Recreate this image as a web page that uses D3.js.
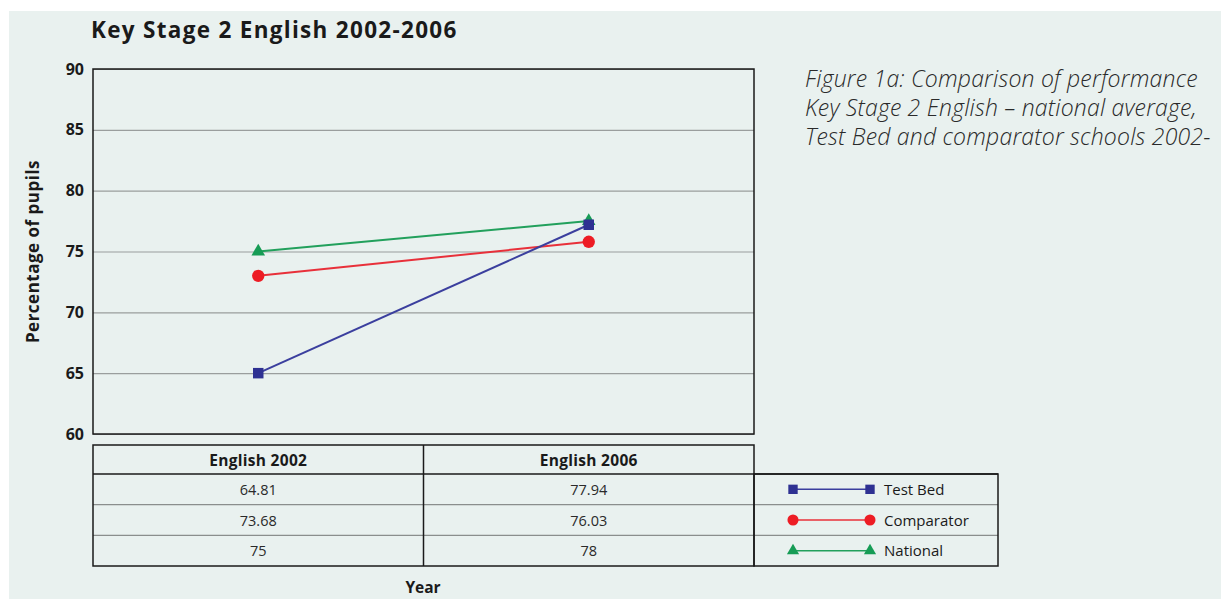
<!DOCTYPE html>
<html>
<head>
<meta charset="utf-8">
<script src="https://cdn.jsdelivr.net/npm/d3@7"></script>
<style>
  body { margin: 0; background: #ffffff; }
  svg { display: block; font-family: "Open Sans", "Noto Sans", sans-serif; }
</style>
</head>
<body>
<div id="chart"></div>
<script>
// Data
const categories = ["English 2002", "English 2006"];
const seriesNames = ["Test Bed", "Comparator", "National"];
// plotted positions
const testBed = [65.0, 77.2];
const comparator = [73.0, 75.8];
const national = [75.0, 77.5];
// table labels as printed
const testBedLabels = ["64.81", "77.94"];
const comparatorLabels = ["73.68", "76.03"];
const nationalLabels = ["75", "78"];
const yTicks = [60, 65, 70, 75, 80, 85, 90];
// caption as visible (the source crops it at the right edge)
const captionLines = [
    "Figure 1a: Comparison of performance",
    "Key Stage 2 English \u2013 national average,",
    "Test Bed and comparator schools 2002-"
];

const series = [
    { name: seriesNames[0], values: testBed, labels: testBedLabels, color: "#2e3192", line: "#3b3f9e", symbol: d3.symbolSquare, size: 110 },
    { name: seriesNames[1], values: comparator, labels: comparatorLabels, color: "#ed1c24", line: "#e8303a", symbol: d3.symbolCircle, size: 120 },
    { name: seriesNames[2], values: national, labels: nationalLabels, color: "#169c55", line: "#22a05c", symbol: d3.symbolTriangle, size: 80 }
];

const W = 1221, H = 599;
const svg = d3.select("#chart").append("svg")
    .attr("width", W)
    .attr("height", H);

// page background
svg.append("rect")
    .attr("x", 9).attr("y", 11)
    .attr("width", W - 9).attr("height", H - 11)
    .attr("fill", "#e9f1ef");

// Scales
const plot = { left: 93, right: 754, top: 69, bottom: 434 };
const x = d3.scaleBand().domain(categories).range([plot.left, plot.right]);
const y = d3.scaleLinear().domain([60, 90]).range([plot.bottom, plot.top]);

// Title
svg.append("text")
    .attr("x", 91).attr("y", 38)
    .text("Key Stage 2 English 2002-2006")
    .attr("fill", "#1a1a1a")
    .style("font-size", "22.5px")
    .style("letter-spacing", "1.3px")
    .style("font-weight", "700");

// Caption
svg.append("g").selectAll("text")
    .data(captionLines)
    .enter().append("text")
    .attr("x", 805)
    .attr("y", (d, i) => 87 + i * 29)
    .text(d => d)
    .attr("fill", "#2a2a2a")
    .style("font-size", "23px")
    .style("letter-spacing", "0.2px")
    .style("font-style", "italic")
    .style("font-weight", "300");

// Grid lines
svg.append("g")
    .attr("transform", `translate(${plot.left},0)`)
    .call(d3.axisLeft(y).tickValues(yTicks).tickSize(-(plot.right - plot.left)).tickFormat(""))
    .call(g => g.select(".domain").remove())
    .call(g => g.selectAll("line").attr("stroke", "#9a9e9d").attr("stroke-width", 1.2));

// Y axis labels
svg.append("g")
    .attr("transform", `translate(${plot.left},0)`)
    .call(d3.axisLeft(y).tickValues(yTicks).tickSize(0).tickPadding(9))
    .call(g => g.select(".domain").remove())
    .call(g => g.selectAll("text")
        .attr("fill", "#1a1a1a")
        .style("font-size", "16px")
        .style("font-weight", "700")
        .style("font-family", "'Open Sans', sans-serif"));

// Plot border
svg.append("rect")
    .attr("x", plot.left).attr("y", plot.top)
    .attr("width", plot.right - plot.left).attr("height", plot.bottom - plot.top)
    .attr("fill", "none")
    .attr("stroke", "#1a1a1a")
    .attr("stroke-width", 1.5);

// Y axis title
svg.append("text")
    .attr("transform", `translate(39,${(plot.top + plot.bottom) / 2}) rotate(-90)`)
    .attr("text-anchor", "middle")
    .text("Percentage of pupils")
    .attr("fill", "#1a1a1a")
    .style("font-size", "17px")
    .style("letter-spacing", "0.5px")
    .style("font-weight", "700");

// Lines and markers (National first, Test Bed on top)
const line = d3.line()
    .x((d, i) => x(categories[i]) + x.bandwidth() / 2)
    .y(d => y(d));

series.slice().reverse().forEach(s => {
    svg.append("path")
        .datum(s.values)
        .attr("fill", "none")
        .attr("stroke", s.line)
        .attr("stroke-width", 2)
        .attr("d", line);
    svg.append("g").selectAll("path")
        .data(s.values)
        .enter().append("path")
        .attr("transform", (d, i) => `translate(${x(categories[i]) + x.bandwidth() / 2},${y(d)})`)
        .attr("d", d3.symbol().type(s.symbol).size(s.size))
        .attr("fill", s.color);
});

// Data table
const table = { top: 445, header: 474, bottom: 566, legendRight: 998 };
const rows = d3.scaleBand().domain(seriesNames).range([table.header, table.bottom]);

// row separators (grey)
svg.append("g").selectAll("line")
    .data(seriesNames.slice(1))
    .enter().append("line")
    .attr("x1", plot.left).attr("x2", table.legendRight)
    .attr("y1", d => rows(d)).attr("y2", d => rows(d))
    .attr("stroke", "#8a8e8d")
    .attr("stroke-width", 1.2);

// header box + data box
svg.append("rect")
    .attr("x", plot.left).attr("y", table.top)
    .attr("width", plot.right - plot.left).attr("height", table.bottom - table.top)
    .attr("fill", "none").attr("stroke", "#1a1a1a").attr("stroke-width", 1.5);
svg.append("line")
    .attr("x1", plot.left).attr("x2", table.legendRight)
    .attr("y1", table.header).attr("y2", table.header)
    .attr("stroke", "#1a1a1a").attr("stroke-width", 1.5);
svg.append("line")
    .attr("x1", x(categories[1])).attr("x2", x(categories[1]))
    .attr("y1", table.top).attr("y2", table.bottom)
    .attr("stroke", "#1a1a1a").attr("stroke-width", 1.5);
// legend box
svg.append("rect")
    .attr("x", plot.right).attr("y", table.header)
    .attr("width", table.legendRight - plot.right).attr("height", table.bottom - table.header)
    .attr("fill", "none").attr("stroke", "#1a1a1a").attr("stroke-width", 1.5);

// header text
svg.append("g").selectAll("text")
    .data(categories)
    .enter().append("text")
    .attr("x", d => x(d) + x.bandwidth() / 2)
    .attr("y", 466)
    .attr("text-anchor", "middle")
    .text(d => d)
    .attr("fill", "#1a1a1a")
    .style("font-size", "15.5px")
    .style("letter-spacing", "0.3px")
    .style("font-weight", "700");

// cell values
series.forEach(s => {
    svg.append("g").selectAll("text")
        .data(s.labels)
        .enter().append("text")
        .attr("x", (d, i) => x(categories[i]) + x.bandwidth() / 2)
        .attr("y", rows(s.name) + rows.bandwidth() / 2 + 5.5)
        .attr("text-anchor", "middle")
        .text(d => d)
        .attr("fill", "#2a2a2a")
        .style("font-size", "14.5px");

    // legend entry
    const ly = rows(s.name) + rows.bandwidth() / 2;
    const lg = svg.append("g");
    lg.append("line")
        .attr("x1", 793).attr("x2", 870)
        .attr("y1", ly).attr("y2", ly)
        .attr("stroke", s.line).attr("stroke-width", 1.5);
    lg.selectAll("path")
        .data([793, 870])
        .enter().append("path")
        .attr("transform", d => `translate(${d},${ly})`)
        .attr("d", d3.symbol().type(s.symbol).size(s.size * 0.8))
        .attr("fill", s.color);
    lg.append("text")
        .attr("x", 884).attr("y", ly + 5.5)
        .text(s.name)
        .attr("fill", "#1a1a1a")
        .style("font-size", "15px");
});

// X axis title
svg.append("text")
    .attr("x", 423).attr("y", 593)
    .attr("text-anchor", "middle")
    .text("Year")
    .attr("fill", "#1a1a1a")
    .style("font-size", "15.5px")
    .style("font-weight", "700");
</script>
</body>
</html>
